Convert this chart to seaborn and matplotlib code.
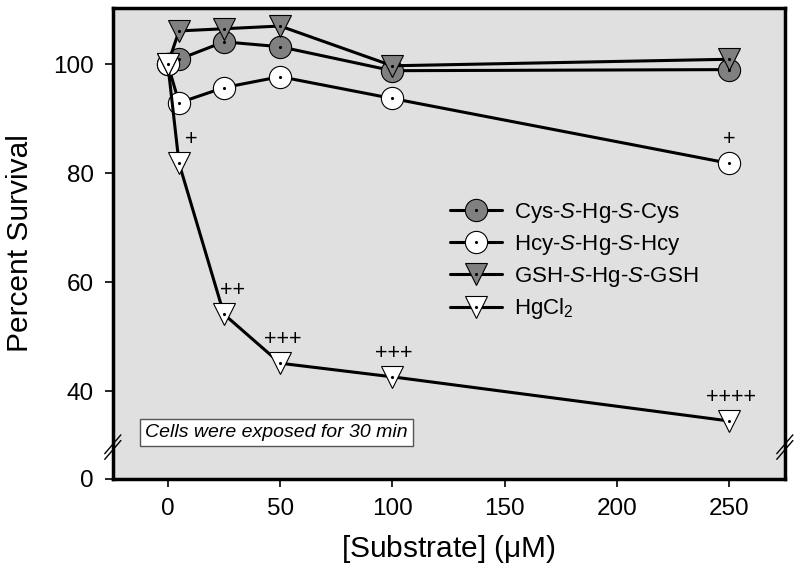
import matplotlib
matplotlib.use("Agg")
import matplotlib.pyplot as plt
import seaborn as sns
import pandas as pd

# concentrations (uM)
conc = [0, 5, 25, 50, 100, 250]

cys = [100.0, 100.9, 104.1, 103.2, 98.8, 99.0]
hcy = [100.0, 92.9, 95.7, 97.7, 93.7, 81.8]
gsh = [100.0, 106.1, 106.5, 107.0, 99.7, 100.9]
hgcl2 = [100.0, 81.8, 54.1, 45.1, 42.6, 34.5]

series_names = [r"Cys-$\it{S}$-Hg-$\it{S}$-Cys", r"Hcy-$\it{S}$-Hg-$\it{S}$-Hcy",
                r"GSH-$\it{S}$-Hg-$\it{S}$-GSH", r"HgCl$_2$"]
series_values = [cys, hcy, gsh, hgcl2]
series_markers = ["o", "o", "v", "v"]
series_fills = ["#808080", "white", "#808080", "white"]

# significance marks: (series index, concentration, label)
sig_series = [3, 3, 3, 3, 3, 1]
sig_conc = [5, 25, 50, 100, 250, 250]
sig_labels = ["+", "++", "+++", "+++", "++++", "+"]
sig_dx = [9, 6, 2, 1, 1, 0]

# broken axis: value shown as "0" sits at the bottom of the axis
y_zero_pos = 23.85
y_top = 110.3
y_ticks = [y_zero_pos, 40, 60, 80, 100]
y_ticklabels = ["0", "40", "60", "80", "100"]
y_break = 29.7

sns.set_theme(style="white")
plt.rcParams["font.family"] = ["Liberation Sans", "DejaVu Sans"]
plt.rcParams["mathtext.fontset"] = "custom"
plt.rcParams["mathtext.rm"] = "Liberation Sans"
plt.rcParams["mathtext.it"] = "Liberation Sans:italic"
for key in ["text.color", "axes.labelcolor", "xtick.color", "ytick.color"]:
    plt.rcParams[key] = "black"

fig = plt.figure(figsize=(8, 5.75), dpi=100)
ax = fig.add_axes([0.141, 0.167, 0.84, 0.819])
ax.set_facecolor("#e0e0e0")

handles = []
for i, (name, vals) in enumerate(zip(series_names, series_values)):
    df = pd.DataFrame({"conc": conc, "val": vals})
    sns.lineplot(data=df, x="conc", y="val", ax=ax, color="black", linewidth=2.2,
                 marker=series_markers[i], markersize=16,
                 markerfacecolor=series_fills[i], markeredgecolor="black",
                 markeredgewidth=0.8, zorder=3 + i, legend=False)
    line = ax.lines[-1]
    dots, = ax.plot(conc, vals, linestyle="none", marker=".", markersize=2.5,
                    color="black", zorder=3 + i)
    handles.append((line, dots))

for s, c, lab, dx in zip(sig_series, sig_conc, sig_labels, sig_dx):
    yv = series_values[s][conc.index(c)]
    ax.annotate(lab, (c, yv), xytext=(dx, 17), textcoords="offset points",
                ha="center", va="center", fontsize=15.5)

ax.set_xlim(-24.5, 274.8)
ax.set_ylim(y_zero_pos, y_top)
ax.set_xticks([0, 50, 100, 150, 200, 250])
ax.set_yticks(y_ticks)
ax.set_yticklabels(y_ticklabels)
ax.tick_params(axis="both", direction="out", length=5.5, width=1.2,
               labelsize=17.5, pad=8, left=True, bottom=True)
ax.set_xlabel(r"[Substrate] ($\mathrm{\mu}$M)", fontsize=21.5)
ax.set_ylabel("Percent Survival", fontsize=21.5)
ax.xaxis.set_label_coords(0.5, -0.115)
ax.yaxis.set_label_coords(-0.118, 0.5)

for sp in ax.spines.values():
    sp.set_color("black")
    sp.set_linewidth(2.5)

# break marks on the left and right spines
yb = (y_break - y_zero_pos) / (y_top - y_zero_pos)
for xs in (0, 1):
    for off in (-0.006, 0.006):
        ax.plot([xs - 0.012, xs + 0.012], [yb + off - 0.02, yb + off + 0.02],
                transform=ax.transAxes, color="black", linewidth=1,
                clip_on=False, zorder=10)

ax.text(0.048, 0.098, "Cells were exposed for 30 min", transform=ax.transAxes,
        fontsize=14, style="italic", va="center", ha="left",
        bbox=dict(boxstyle="square,pad=0.25", facecolor="white",
                  edgecolor="#555555", linewidth=1))

ax.legend(handles, series_names, loc="upper left", bbox_to_anchor=(0.5015, 0.59),
          frameon=False, fontsize=16, handlelength=2.34, labelspacing=0.35,
          handletextpad=0.54, borderaxespad=0, borderpad=0)

fig.savefig("out.png", dpi=100)
